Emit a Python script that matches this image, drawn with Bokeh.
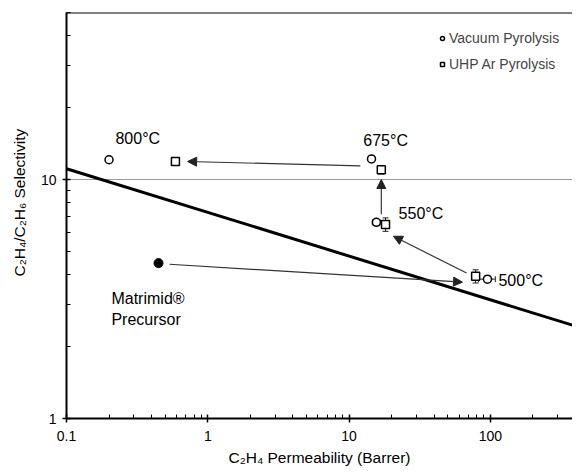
from bokeh.plotting import figure
from bokeh.models import (ColumnDataSource, Whisker, TeeHead, Arrow, NormalHead, Span,
                          Legend, LegendItem, FixedTicker, CustomJSTickFormatter, Range1d)
from bokeh.core.properties import value
from bokeh.embed import file_html
from bokeh.resources import INLINE

FONT = "Liberation Sans"

# ---- data ----
X_RANGE = (0.1, 381)
Y_RANGE = (1, 50)
X_MAJOR = [0.1, 1, 10, 100]
X_MINOR = [0.2, 0.3, 0.4, 0.5, 0.6, 0.7, 0.8, 0.9, 2, 3, 4, 5, 6, 7, 8, 9,
           20, 30, 40, 50, 60, 70, 80, 90, 200, 300, 400]
Y_MAJOR = [1, 10]
Y_MINOR = [2, 3, 4, 5, 6, 7, 8, 9, 20, 30, 40, 50]

# Vacuum pyrolysis (800, 675, 550, 500 C)
vac_x = [0.2, 14.4, 15.6, 95.3]
vac_y = [12.1, 12.2, 6.62, 3.83]
vac_xerr = [0.0, 0.0, 1.0, 13.0]
vac_yerr = [0.0, 0.0, 0.0, 0.12]
# UHP Ar pyrolysis (800, 675, 550, 500 C)
uhp_x = [0.59, 16.9, 18.1, 78.6]
uhp_y = [11.9, 11.0, 6.49, 3.94]
uhp_yerr = [0.0, 0.45, 0.42, 0.25]
# Matrimid precursor
pre_x = [0.448]
pre_y = [4.47]
# upper bound line
ub_x = [0.1, 434]
ub_y = [11.1, 2.4]
# arrows
arr_x0 = [12.0, 16.9, 67.8, 0.536]
arr_y0 = [11.4, 7.15, 4.06, 4.42]
arr_x1 = [0.72, 16.9, 20.6, 63.5]
arr_y1 = [11.9, 10.0, 5.79, 3.72]
# labels
lab_text = ["800°C", "675°C", "550°C", "500°C", "Matrimid®", "Precursor"]
lab_x = [0.222, 12.6, 22.4, 114, 0.208, 0.208]
lab_y = [14.8, 14.5, 7.2, 3.79, 3.19, 2.59]

p = figure(width=572, height=468, x_axis_type="log", y_axis_type="log",
           x_range=Range1d(*X_RANGE), y_range=Range1d(*Y_RANGE),
           output_backend="svg", toolbar_location=None,
           min_border_left=66, min_border_right=0, min_border_top=12, min_border_bottom=50)
p.outline_line_color = None
p.background_fill_color = "white"
p.xgrid.visible = False
p.ygrid.grid_line_color = "#9a9a9a"
p.ygrid.grid_line_width = 1

p.xaxis.ticker = FixedTicker(ticks=X_MAJOR, minor_ticks=X_MINOR)
p.yaxis.ticker = FixedTicker(ticks=Y_MAJOR, minor_ticks=Y_MINOR)
fmt = "return Number(tick.toPrecision(3)).toString()"
p.xaxis.formatter = CustomJSTickFormatter(code=fmt)
p.yaxis.formatter = CustomJSTickFormatter(code=fmt)
for ax in (p.xaxis[0], p.yaxis[0]):
    ax.axis_line_color = "black"
    ax.axis_line_width = 2
    ax.major_tick_line_color = "black"
    ax.minor_tick_line_color = "black"
    ax.major_tick_line_width = 1.5
    ax.minor_tick_line_width = 1
    ax.major_tick_in = 4
    ax.major_tick_out = 4
    ax.minor_tick_in = 4
    ax.minor_tick_out = 0
    ax.major_label_text_font = FONT
    ax.major_label_text_font_size = "14px"
    ax.major_label_text_color = "black"
    ax.axis_label_text_font = FONT
    ax.axis_label_text_font_size = "15.5px"
    ax.axis_label_text_font_style = "normal"
    ax.axis_label_text_color = "black"
p.xaxis.major_label_standoff = 8
p.yaxis.major_label_standoff = 6
p.xaxis.axis_label_standoff = 5
p.yaxis.axis_label_standoff = 10
p.xaxis.axis_label = "C₂H₄ Permeability (Barrer)"
p.yaxis.axis_label = "\u00a0" * 6 + "C₂H₄/C₂H₆ Selectivity"

p.add_layout(Span(location=Y_RANGE[1], dimension="width", line_color="black", line_width=2))

# upper bound
p.line(ub_x, ub_y, line_color="black", line_width=3)

# arrows
asrc = ColumnDataSource(dict(x0=arr_x0, y0=arr_y0, x1=arr_x1, y1=arr_y1))
p.add_layout(Arrow(x_start="x0", y_start="y0", x_end="x1", y_end="y1", source=asrc,
                   line_color="#333333", line_width=1.2,
                   end=NormalHead(size=9, fill_color="#222222", line_color="#222222")))

# error bars
vsrc = ColumnDataSource(dict(x=vac_x, y=vac_y,
                             xl=[a - b for a, b in zip(vac_x, vac_xerr)],
                             xu=[a + b for a, b in zip(vac_x, vac_xerr)],
                             yl=[a - b for a, b in zip(vac_y, vac_yerr)],
                             yu=[a + b for a, b in zip(vac_y, vac_yerr)]))
usrc = ColumnDataSource(dict(x=uhp_x, y=uhp_y,
                             yl=[a - b for a, b in zip(uhp_y, uhp_yerr)],
                             yu=[a + b for a, b in zip(uhp_y, uhp_yerr)]))
for src, dim, base, lo, up in [(vsrc, "width", "y", "xl", "xu"),
                               (vsrc, "height", "x", "yl", "yu"),
                               (usrc, "height", "x", "yl", "yu")]:
    p.add_layout(Whisker(source=src, base=base, lower=lo, upper=up, dimension=dim,
                         line_color="#222222", line_width=1,
                         upper_head=TeeHead(size=6, line_color="#222222", line_width=1),
                         lower_head=TeeHead(size=6, line_color="#222222", line_width=1)))

r_vac = p.scatter("x", "y", source=vsrc, marker="circle", size=8,
                  fill_color="white", line_color="black", line_width=1.5)
r_uhp = p.scatter("x", "y", source=usrc, marker="square", size=8,
                  fill_color="white", line_color="black", line_width=1.5)
p.scatter(pre_x, pre_y, marker="circle", size=9, fill_color="black", line_color="black")

p.text(lab_x, lab_y, text=lab_text, text_font=value(FONT), text_font_size="16px",
       text_align="left", text_baseline="middle", text_color="black")

legend = Legend(items=[LegendItem(label="Vacuum Pyrolysis", renderers=[r_vac]),
                       LegendItem(label="UHP Ar Pyrolysis", renderers=[r_uhp])],
                location=(371, 344), padding=2, spacing=6,
                glyph_width=10, glyph_height=20, label_height=20, label_standoff=2,
                label_text_font=FONT, label_text_font_size="14px",
                background_fill_alpha=0, border_line_color=None)
p.add_layout(legend)

open("out.html", "w").write(file_html(p, INLINE))
